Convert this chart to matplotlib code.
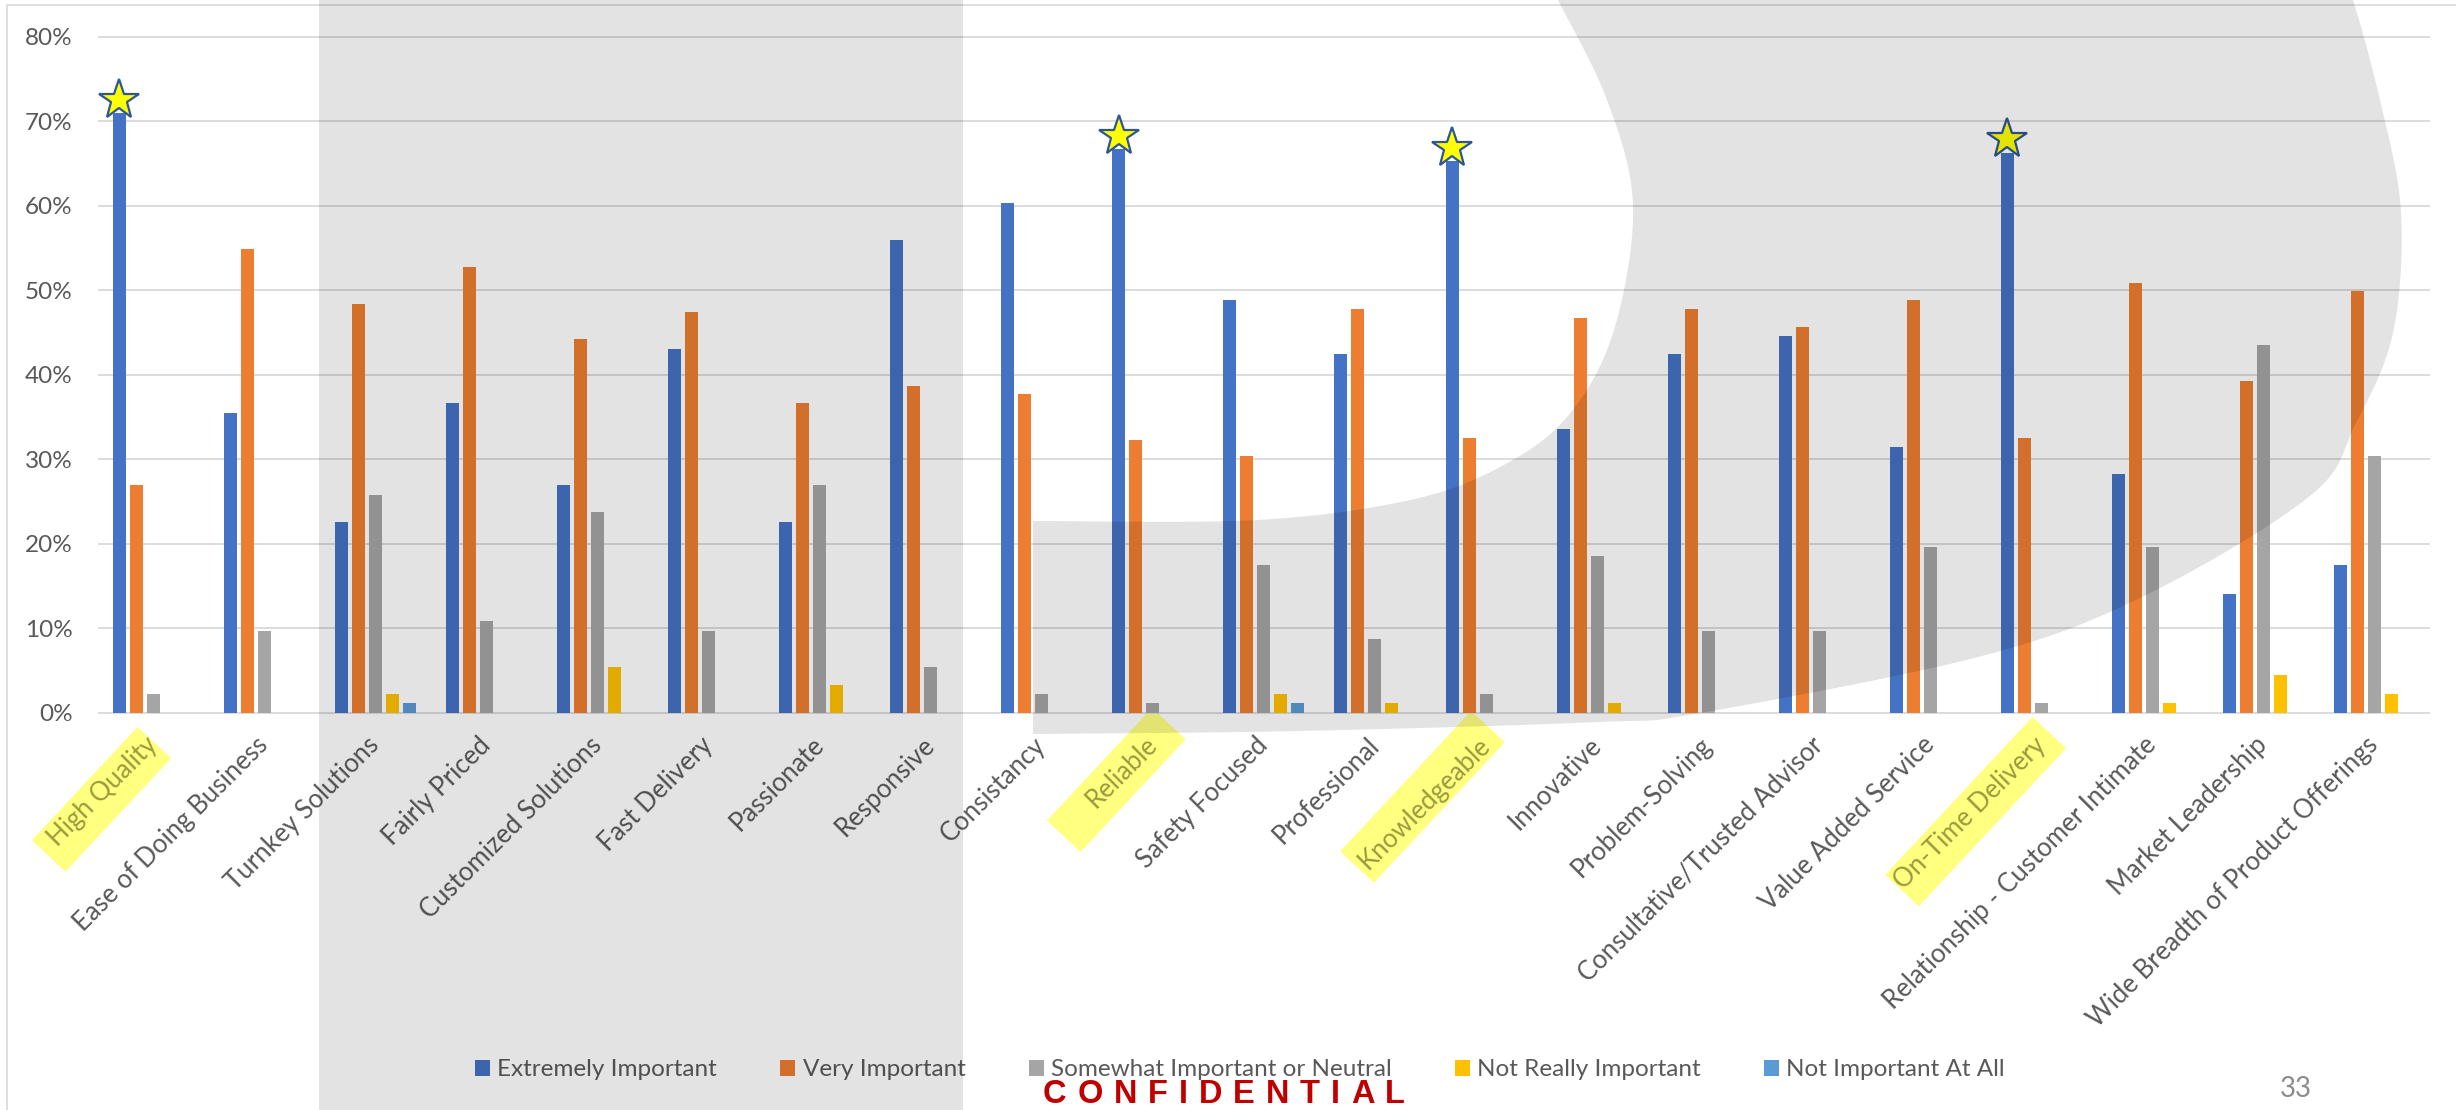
import matplotlib
matplotlib.use("Agg")
import matplotlib.pyplot as plt
import matplotlib.transforms as mtransforms
from matplotlib.patches import Polygon, Patch
from matplotlib.lines import Line2D
from matplotlib.ticker import PercentFormatter
import numpy as np

# ---------------- data ----------------
categories = ["High Quality", "Ease of Doing Business", "Turnkey Solutions", "Fairly Priced",
              "Customized Solutions", "Fast Delivery", "Passionate", "Responsive", "Consistancy",
              "Reliable", "Safety Focused", "Professional", "Knowledgeable", "Innovative",
              "Problem-Solving", "Consultative/Trusted Advisor", "Value Added Service",
              "On-Time Delivery", "Relationship - Customer Intimate", "Market Leadership",
              "Wide Breadth of Product Offerings"]
extremely  = [71.0, 35.5, 22.6, 36.6, 26.9, 43.0, 22.6, 55.9, 60.3, 66.7, 48.8, 42.5, 65.3, 33.6, 42.5, 44.6, 31.5, 66.3, 28.2, 14.0, 17.5]
very       = [26.9, 54.9, 48.4, 52.7, 44.2, 47.4, 36.6, 38.7, 37.7, 32.3, 30.4, 47.8, 32.5, 46.7, 47.8, 45.6, 48.8, 32.5, 50.9, 39.2, 49.9]
somewhat   = [2.2, 9.7, 25.8, 10.8, 23.7, 9.7, 26.9, 5.4, 2.2, 1.1, 17.5, 8.7, 2.2, 18.5, 9.7, 9.7, 19.6, 1.1, 19.6, 43.5, 30.4]
not_really = [0, 0, 2.2, 0, 5.4, 0, 3.3, 0, 0, 0, 2.2, 1.1, 0, 1.1, 0, 0, 0, 0, 1.1, 4.4, 2.2]
not_at_all = [0, 0, 1.1, 0, 0, 0, 0, 0, 0, 0, 1.1, 0, 0, 0, 0, 0, 0, 0, 0, 0, 0]
series_names = ["Extremely Important", "Very Important", "Somewhat Important or Neutral",
                "Not Really Important", "Not Important At All"]
highlighted = ["High Quality", "Reliable", "Knowledgeable", "On-Time Delivery"]
y_ticks = [0, 10, 20, 30, 40, 50, 60, 70, 80]

# ---------------- style ----------------
colors = ["#4472C4", "#ED7D31", "#A5A5A5", "#FFC000", "#5B9BD5"]
W, H, DPI = 2456, 1110, 100
FONT = ["Lato", "DejaVu Sans"]
TXT = "#595959"
plt.rcParams["font.family"] = FONT

fig = plt.figure(figsize=(W / DPI, H / DPI), dpi=DPI, facecolor="white")
ID = mtransforms.IdentityTransform()

def img_pts(pts):
    a = np.asarray(pts, float)
    return np.column_stack([a[:, 0], H - a[:, 1]])

# axes placement (pixel geometry of the reference)
ax_l, ax_r = 97.8, 2430.0
y0_img, y80_img = 712.6, 36.8
ppu = (y0_img - y80_img) / 80.0
ymin, ymax = -0.25, 80.6
bot_img = y0_img + ppu * (-ymin)
top_img = y0_img - ppu * ymax
ax = fig.add_axes([ax_l / W, (H - bot_img) / H, (ax_r - ax_l) / W, (bot_img - top_img) / H])
ax.set_facecolor("none")

x = np.arange(len(categories))
slot, bw = 0.153, 0.117
all_series = [extremely, very, somewhat, not_really, not_at_all]
for j, (vals, name, c) in enumerate(zip(all_series, series_names, colors)):
    ax.bar(x + (j - 2) * slot, vals, width=bw, color=c, label=name, zorder=2, linewidth=0)

ax.set_xlim(-0.5, len(categories) - 0.5)
ax.set_ylim(ymin, ymax)
ax.set_yticks(y_ticks)
ax.yaxis.set_major_formatter(PercentFormatter(xmax=100, decimals=0))
ax.yaxis.grid(True, color="#D9D9D9", linewidth=1.3, zorder=0)
ax.set_axisbelow(True)
for s in ax.spines.values():
    s.set_visible(False)
ax.tick_params(axis="both", length=0, colors=TXT)
ax.tick_params(axis="y", labelsize=17.5, pad=18)
ax.set_xticks(x)
ax.set_xticklabels(categories, rotation=45, ha="right", va="center",
                   rotation_mode="anchor", fontsize=18.5, color=TXT)
ax.tick_params(axis="x", pad=19)
for lbl in ax.get_xticklabels():
    if lbl.get_text() in highlighted:
        lbl.set_color("#9A9A3E")

# stars on highlighted bars
STAR_GAP = 1.55
for i, cat in enumerate(categories):
    if cat in highlighted:
        ax.plot(i - 2 * slot, extremely[i] + STAR_GAP, marker="*", ms=30,
                mfc="#FFFF00", mec="#2F5597", mew=1.6, zorder=5, clip_on=False)

# yellow highlight boxes behind highlighted labels (dx, dy from tick/baseline, length)
hl_geom = {"High Quality": (1, 30, 155), "Reliable": (16, 11, 154),
           "Knowledgeable": (2, 14, 192), "On-Time Delivery": (8, 20, 216)}
ang = np.deg2rad(47)
u = np.array([-np.cos(ang), np.sin(ang)])      # along box (image coords)
pv = np.array([np.sin(ang), np.cos(ang)])      # across box
half_w = 23
for i, cat in enumerate(categories):
    if cat in hl_geom:
        dx, dy, L = hl_geom[cat]
        px = ax.transData.transform((i, 0))[0]
        E = np.array([px + dx, y0_img + dy])
        F = E + L * u
        corners = [E - half_w * pv, E + half_w * pv, F + half_w * pv, F - half_w * pv]
        fig.add_artist(Polygon(img_pts(corners), closed=True, transform=ID,
                               facecolor="#FFFF80", edgecolor="none", zorder=-1))

# legend
handles = [Patch(facecolor=c, edgecolor="none") for c in colors]
ax.legend(handles, series_names, loc="center", bbox_to_anchor=(1240 / W, (H - 1070) / H),
          bbox_transform=fig.transFigure, ncol=5, frameon=False, fontsize=17.5,
          handlelength=0.62, handleheight=0.62, handletextpad=0.3, columnspacing=2.6,
          labelcolor=TXT, borderaxespad=0, borderpad=0)

# chart border (left/top)
fig.add_artist(Line2D([6.5, 6.5, W], [0, H - 4.7, H - 4.7], transform=ID, color="#D9D9D9", lw=1.2))

# page number
fig.text(2280 / W, (H - 1096.7) / H, "33", fontsize=20, color="#8C8C8C", ha="left", va="baseline")

# CONFIDENTIAL with letter tracking
renderer = fig.canvas.get_renderer()
word = "CONFIDENTIAL"
cf_font = dict(fontsize=23.5, fontweight="bold", color="#C00000",
               family=["Liberation Sans Narrow", "Liberation Sans"])
letters = [fig.text(0, (H - 1103) / H, ch, ha="left", va="baseline", **cf_font) for ch in word]
widths = [t.get_window_extent(renderer).width for t in letters]
x_start, x_end = 1043.0, 1405.0
track = (x_end - x_start - sum(widths)) / (len(word) - 1)
xc = x_start
for t, w in zip(letters, widths):
    t.set_x(xc / W)
    xc += w + track

# ---- translucent slide background shapes (overlay) ----
def catmull(pts, n=24):
    P = np.asarray(pts, float)
    P = np.vstack([P[0], P, P[-1]])
    out = []
    t = np.linspace(0, 1, n, endpoint=False)[:, None]
    for k in range(1, len(P) - 2):
        p0, p1, p2, p3 = P[k - 1], P[k], P[k + 1], P[k + 2]
        out.append(0.5 * (2 * p1 + (-p0 + p2) * t + (2 * p0 - 5 * p1 + 4 * p2 - p3) * t ** 2
                          + (-p0 + 3 * p1 - 3 * p2 + p3) * t ** 3))
    out.append(P[-2][None])
    return np.vstack(out)

OVL = dict(facecolor="black", alpha=0.11, edgecolor="none", zorder=10)
rect = [(319, -5), (963, -5), (963, H + 5), (319, H + 5)]
fig.add_artist(Polygon(img_pts(rect), closed=True, transform=ID, **OVL))

outer = [(1033, 734), (1300, 731), (1600, 722), (1700, 713), (1982, 656), (2146, 595),
         (2310, 496), (2355, 425), (2393, 333), (2401, 212), (2380, 100), (2353, 0), (2345, -8)]
inner = [(1555, -8), (1558, 0), (1607, 100), (1633, 207), (1613, 333), (1567, 417),
         (1500, 467), (1410, 500), (1257, 520), (1033, 521)]
dshape = np.vstack([catmull(outer), catmull(inner)])
fig.add_artist(Polygon(img_pts(dshape), closed=True, transform=ID, **OVL))

fig.savefig("out.png", dpi=DPI, facecolor="white")
